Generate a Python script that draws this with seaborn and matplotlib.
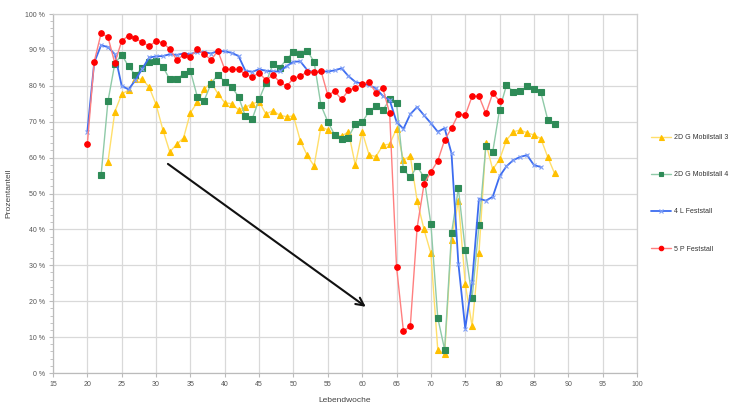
import matplotlib
matplotlib.use('Agg')
import matplotlib.pyplot as plt
from matplotlib.ticker import MultipleLocator, FuncFormatter
import seaborn as sns

# Lebendwoche ranges per series
weeks_mobil3 = list(range(23, 89))
weeks_mobil4 = list(range(22, 89))
weeks_fest4l = list(range(20, 87))
weeks_fest5p = list(range(20, 81))

# Prozentanteil per week
mobil3 = [58.8, 72.8, 77.7, 78.8, 81.8, 81.9, 79.6, 74.8, 67.7, 61.6,
          63.7, 65.5, 72.5, 75.4, 79.0, 81.0, 77.8, 75.3, 75.0, 73.3,
          74.0, 75.0, 75.6, 72.1, 73.1, 71.8, 71.4, 71.6, 64.7, 60.6,
          57.7, 68.6, 67.7, 66.3, 66.0, 67.2, 57.9, 67.2, 60.8, 60.3,
          63.4, 63.8, 68.0, 59.3, 60.5, 48.0, 40.0, 33.3, 6.5, 5.2,
          37.0, 48.0, 24.9, 13.0, 33.5, 64.1, 56.7, 59.5, 64.9, 67.2,
          67.7, 66.9, 66.3, 65.3, 60.2, 55.6]
mobil4 = [55.1, 75.7, 86.2, 88.7, 85.4, 83.0, 85.0, 86.7, 87.0, 85.3,
          81.8, 82.0, 83.2, 84.1, 77.0, 75.9, 80.6, 83.1, 81.2, 79.7,
          77.0, 71.5, 70.8, 76.2, 80.9, 86.0, 85.0, 87.4, 89.5, 88.8,
          89.8, 86.7, 74.6, 70.0, 66.3, 65.1, 65.6, 69.4, 69.8, 72.9,
          74.3, 73.2, 76.2, 75.1, 56.7, 54.5, 57.6, 54.5, 41.5, 15.4,
          6.5, 38.9, 51.4, 34.4, 21.0, 41.1, 63.2, 61.6, 73.4, 80.2,
          78.4, 78.5, 79.9, 79.0, 78.2, 70.6, 69.3]
fest4l = [67.2, 86.5, 91.3, 90.8, 88.8, 80.0, 79.0, 81.6, 84.8, 87.9,
          88.2, 88.3, 88.8, 88.6, 89.0, 88.8, 89.5, 89.4, 89.0, 89.7,
          89.6, 89.2, 88.3, 84.2, 83.9, 84.6, 84.2, 84.0, 84.0, 85.5,
          86.7, 86.8, 84.4, 83.7, 84.0, 84.0, 84.3, 84.9, 82.7, 81.1,
          80.6, 80.2, 79.3, 77.2, 76.0, 70.0, 68.0, 72.1, 74.1, 71.8,
          69.6, 67.2, 68.2, 61.2, 30.5, 12.4, 25.4, 48.6, 48.0, 49.1,
          54.8, 57.6, 59.3, 60.2, 60.7, 57.9, 57.4]
fest5p = [63.8, 86.7, 94.6, 93.6, 86.3, 92.5, 94.0, 93.2, 92.1, 91.1,
          92.4, 92.0, 90.2, 87.3, 88.5, 88.1, 90.2, 88.9, 87.2, 89.7,
          84.6, 84.6, 84.6, 83.2, 82.5, 83.6, 81.6, 83.0, 81.1, 79.9,
          82.1, 82.7, 83.9, 83.9, 84.2, 77.4, 78.5, 76.2, 78.7, 79.5,
          80.5, 81.0, 78.1, 79.4, 72.3, 29.6, 11.7, 13.0, 40.5, 52.6,
          56.0, 59.1, 64.9, 68.2, 72.1, 71.8, 77.1, 77.1, 72.3, 77.9,
          75.8]

labels = ['2D G Mobilstall 3', '2D G Mobilstall 4', '4 L Feststall', '5 P Feststall']
x_ticks = list(range(15, 101, 5))
y_ticks = list(range(0, 101, 10))

# (weeks, values, label, line colour, marker colour, marker, size)
series = [
    (weeks_mobil3, mobil3, labels[0], '#ffdf6b', '#ffc000', '^', 4.5),
    (weeks_mobil4, mobil4, labels[1], '#8fcaa8', '#2e8b57', 's', 4),
    (weeks_fest4l, fest4l, labels[2], '#3c6cf0', '#7f9ff7', 'x', 3),
    (weeks_fest5p, fest5p, labels[3], '#ff7f7f', '#ff0000', 'o', 4),
]

sns.set_style('white')
plt.rcParams['font.family'] = ['Liberation Sans', 'DejaVu Sans']

fig = plt.figure(figsize=(7.39, 4.03), dpi=100)
ax = fig.add_axes([0.0717, 0.0744, 0.7903, 0.8908])

for weeks, vals, label, lc, mc, mk, ms in series:
    sns.lineplot(x=weeks, y=vals, ax=ax, color=lc, marker=mk, markersize=ms,
                 markerfacecolor=mc, markeredgecolor=mc, markeredgewidth=0.8,
                 linewidth=1.3 if mk == 'x' else 1.0, label=label, legend=False)

# arrow pointing down towards the drop
ax.annotate('', xy=(60.85, 18.0), xytext=(31.4, 58.7),
            arrowprops=dict(arrowstyle='->', color='#111111', lw=1.5, mutation_scale=14))

ax.set_xlim(15, 100)
ax.set_ylim(0, 100)
ax.set_xticks(x_ticks)
ax.set_yticks(y_ticks)
ax.yaxis.set_minor_locator(MultipleLocator(2))
ax.yaxis.set_major_formatter(FuncFormatter(lambda v, p: f'{int(v)} %'))
ax.grid(True, which='major', color='#d9d9d9', linewidth=0.9)
ax.tick_params(axis='both', which='major', labelsize=5, labelcolor='#555555',
               length=3, color='#bbbbbb', direction='out', pad=3)
ax.tick_params(axis='y', which='minor', length=2, color='#bbbbbb', left=True)
ax.tick_params(left=True, bottom=True)
for side in ['left', 'bottom', 'top', 'right']:
    ax.spines[side].set_color('#d0d0d0')
    ax.spines[side].set_linewidth(0.9)
ax.spines['left'].set_color('#bbbbbb')
ax.spines['bottom'].set_color('#bbbbbb')

ax.set_xlabel('Lebendwoche', fontsize=6, color='#444444', labelpad=6)
ax.set_ylabel('Prozentanteil', fontsize=6, color='#444444', labelpad=9)

handles, lbls = ax.get_legend_handles_labels()
fig.legend(handles, lbls, loc='upper left', bbox_to_anchor=(0.872, 0.683),
           frameon=False, fontsize=5, labelspacing=4.35, handlelength=2.9,
           handletextpad=0.4, labelcolor='#333333', markerscale=0.8)

fig.savefig('out.png', dpi=100)
